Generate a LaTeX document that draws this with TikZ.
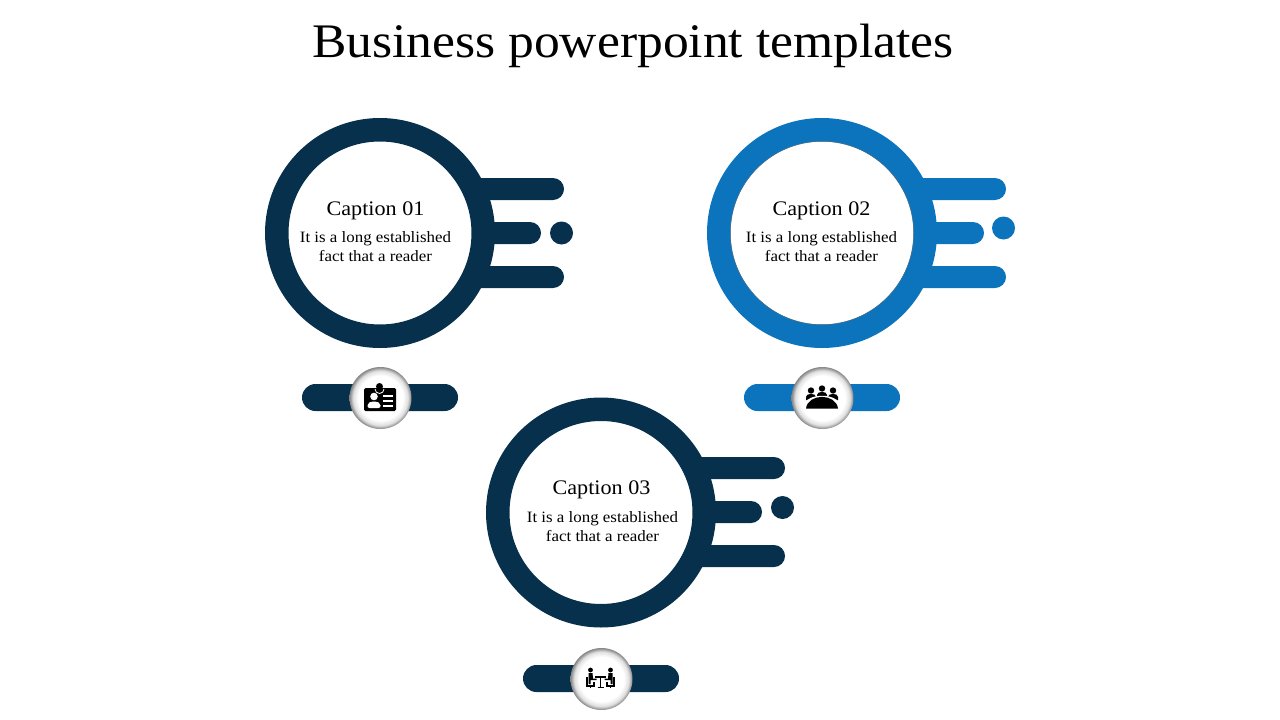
\documentclass[tikz,border=0pt]{standalone}
\usepackage{fontspec}
\setmainfont[FakeStretch=1.07]{Liberation Serif}
\usetikzlibrary{shapes,shapes.misc}
\definecolor{navy}{HTML}{07304D}
\definecolor{seablue}{HTML}{0C74BD}
\pgfdeclareradialshading{badgeshade}{\pgfpoint{0bp}{0bp}}{color(0bp)=(white); color(18bp)=(white); color(22bp)=(black!12); color(25bp)=(black!48); color(50bp)=(black!48)}
\begin{document}
\begin{tikzpicture}[x=1pt,y=-1pt,
      every node/.append style={inner sep=0pt,outer sep=0pt},
      ring/.style={draw=#1,circle,fill=white,line width=23.5pt,minimum size=206.5pt},
      bar/.style={fill=#1,rounded rectangle,minimum height=22pt},
      dot/.style={fill=#1,circle,minimum size=23pt},
      pill/.style={fill=#1,rounded rectangle,minimum height=27pt,minimum width=156pt},
      badge/.style={circle,shading=badgeshade,minimum size=62pt},
      caption/.style={font=\fontsize{20.7}{24}\selectfont,color=black},
      body/.style={font=\fontsize{15.8}{19}\selectfont,align=center,color=black}]
    \useasboundingbox (0,0) rectangle (1280,720);
    \node (title) [font=\fontsize{48.2}{52}\selectfont] at (633,46) {Business powerpoint templates};
    % first unit
    \node (barA1) [bar=navy,minimum width=104pt] at (512,189) {};
    \node (barA2) [bar=navy,minimum width=81pt] at (500.5,233) {};
    \node (barA3) [bar=navy,minimum width=104pt] at (512,277) {};
    \node (dotA) [dot=navy] at (561.5,233) {};
    \node (ringA) [ring=navy] at (380,233) {};
    \node (capA) [caption] at (375.5,210.5) {Caption 01};
    \node (txtA) [body] at (375.5,246.5) {It is a long established\\fact that a reader};
    \node (pillA) [pill=navy] at (380,397.5) {};
    \node (badgeA) [badge] at (380.5,398) {};
    % second unit
    \node (barB1) [bar=seablue,minimum width=104pt] at (954,189) {};
    \node (barB2) [bar=seablue,minimum width=81pt] at (943.5,233) {};
    \node (barB3) [bar=seablue,minimum width=104pt] at (954,277) {};
    \node (dotB) [dot=seablue] at (1003.5,228) {};
    \node (ringB) [ring=seablue] at (822,233) {};
    \node (edgeB) [circle,draw=navy!70,line width=.5pt,minimum size=183.5pt] at (822,233) {};
    \node (capB) [caption] at (821.5,210.5) {Caption 02};
    \node (txtB) [body] at (821.5,246.5) {It is a long established\\fact that a reader};
    \node (pillB) [pill=seablue] at (822,397.5) {};
    \node (badgeB) [badge] at (822.5,398) {};
    % third unit
    \node (barC1) [bar=navy,minimum width=104pt] at (733,468) {};
    \node (barC2) [bar=navy,minimum width=81pt] at (721.5,512) {};
    \node (barC3) [bar=navy,minimum width=104pt] at (733,556) {};
    \node (dotC) [dot=navy] at (782.5,507.5) {};
    \node (ringC) [ring=navy] at (601,512.5) {};
    \node (capC) [caption] at (601.5,489.5) {Caption 03};
    \node (txtC) [body] at (602.5,526.5) {It is a long established\\fact that a reader};
    \node (pillC) [pill=navy] at (601,678.5) {};
    \node (badgeC) [badge] at (601.5,679) {};
    % id card
    \fill[black,rounded corners=1.5pt] (364,388) rectangle (396,411);
    \fill[black] (379.5,386.5) circle (3.5pt);
    \draw[white,line width=.8pt] (375,389) arc (180:360:4.5pt);
    \fill[white] (374,396.5) circle (3.8pt);
    \fill[white,rounded corners=2pt] (367.5,408) -- (367.5,403.5) -- (371,401.5) -- (377,401.5) -- (380.5,403.5) -- (380.5,408) -- cycle;
    \draw[white,line width=1.2pt] (383,396) -- (393,396) (383,401) -- (393,401) (383,406) -- (393,406);
    % meeting
    \foreach \hx/\hy in {811/390.5,822/388.5,833/390.5}{
      \fill[black] (\hx,\hy) circle (3.2pt);
      \fill[black,rounded corners=1.5pt] (\hx-5,\hy+11) -- (\hx-5,\hy+5) -- (\hx-2,\hy+3.5) -- (\hx+2,\hy+3.5) -- (\hx+5,\hy+5) -- (\hx+5,\hy+11) -- cycle;
    }
    \fill[white] (803,409) -- (803,404) .. controls (810,393) and (834,393) .. (841,404) -- (841,409) -- cycle;
    \fill[black] (806,408.5) .. controls (808,393) and (836,393) .. (838,408.5) -- cycle;
    % two people at a table
    \fill[black] (590.5,670) circle (2.4pt) (610.5,670) circle (2.4pt);
    \fill[black] (588.5,673) -- (592.5,673) -- (593,678.5) -- (596.5,678.5) -- (596.5,680) -- (590.5,680) -- (590.5,684) -- (588.5,684) -- cycle;
    \fill[black] (612.5,673) -- (608.5,673) -- (608,678.5) -- (604.5,678.5) -- (604.5,680) -- (610.5,680) -- (610.5,684) -- (612.5,684) -- cycle;
    \draw[black,line width=1.1pt] (587,677) -- (587,686) -- (594,686) -- (594,682) (590.5,686) -- (590.5,688);
    \draw[black,line width=1.1pt] (614,677) -- (614,686) -- (607,686) -- (607,682) (610.5,686) -- (610.5,688);
    \draw[black,line width=1.2pt] (595,677) -- (606,677) (600.5,677) -- (600.5,687) (597.5,687.5) -- (603.5,687.5);
\end{tikzpicture}
\end{document}
